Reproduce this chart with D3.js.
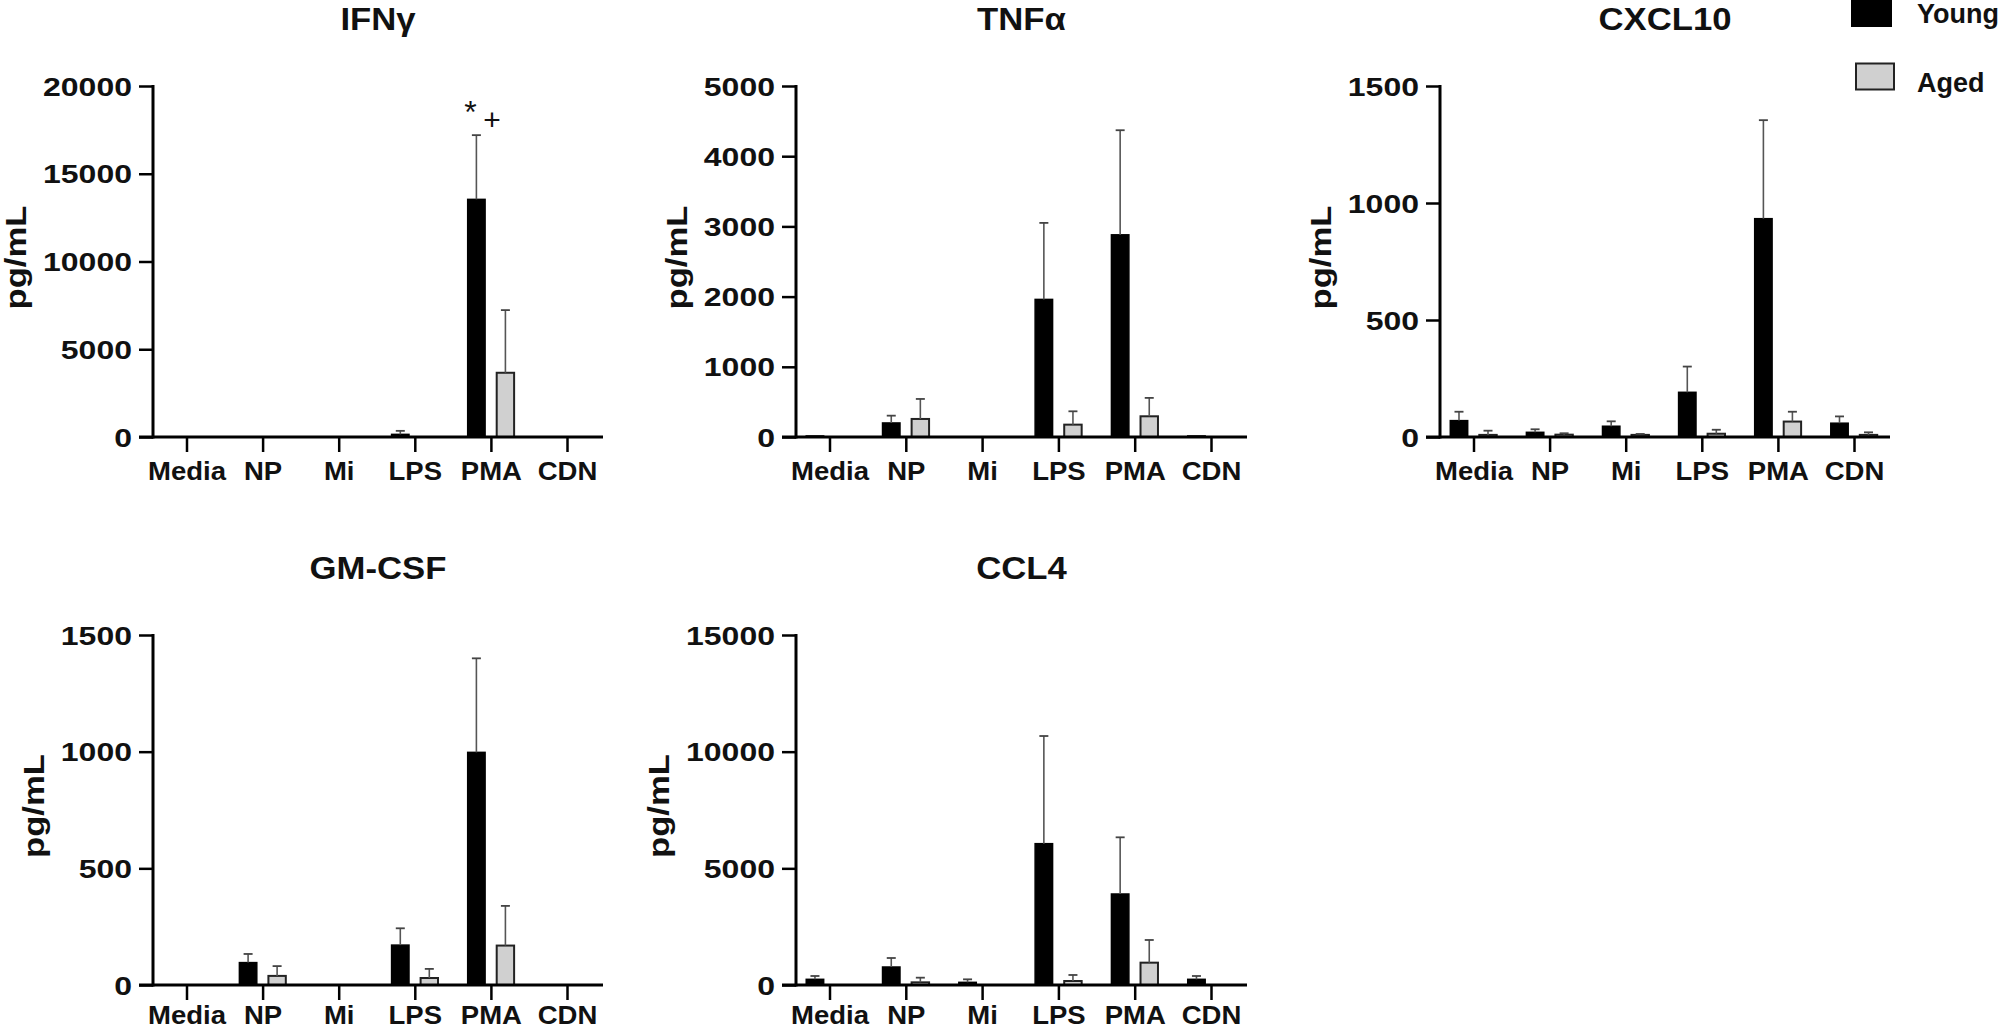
<!DOCTYPE html>
<html>
<head>
<meta charset="utf-8">
<script src="https://cdn.jsdelivr.net/npm/d3@7"></script>
<style>
  html, body { margin: 0; padding: 0; background: #fff; }
  svg { display: block; }
  text { font-family: "Liberation Sans", Arial, Helvetica, sans-serif; fill: #111; }
</style>
</head>
<body>
<svg id="chart" width="2008" height="1031"></svg>
<script>
// ---------------- DATA ----------------
const categories = ["Media", "NP", "Mi", "LPS", "PMA", "CDN"];
const seriesNames = ["Young", "Aged"];
const cytokines = ["IFNγ", "TNFα", "CXCL10", "GM-CSF", "CCL4"];
const yMaxes = [20000, 5000, 1500, 1500, 15000];
const yTickSteps = [5000, 1000, 500, 500, 5000];

// means and upper error (SD) per condition
const ifngYoung    = [0, 0, 0, 150, 13540, 0];
const ifngYoungErr = [0, 0, 0, 200, 3660, 0];
const ifngAged     = [0, 0, 0, 0, 3660, 0];
const ifngAgedErr  = [0, 0, 0, 0, 3570, 0];

const tnfYoung     = [15, 200, 0, 1960, 2880, 15];
const tnfYoungErr  = [0, 104, 0, 1090, 1490, 0];
const tnfAged      = [0, 257, 0, 176, 295, 0];
const tnfAgedErr   = [0, 285, 0, 190, 262, 0];

const cxclYoung    = [70, 20, 46, 191, 933, 59];
const cxclYoungErr = [38, 13, 21, 110, 421, 29];
const cxclAged     = [9, 10, 9, 14, 66, 9];
const cxclAgedErr  = [18, 6, 4, 17, 42, 11];

const gmcsfYoung    = [0, 96, 0, 171, 997, 0];
const gmcsfYoungErr = [0, 37, 0, 72, 403, 0];
const gmcsfAged     = [0, 39, 0, 30, 169, 0];
const gmcsfAgedErr  = [0, 42, 0, 39, 170, 0];

const ccl4Young    = [243, 771, 114, 6057, 3900, 243];
const ccl4YoungErr = [143, 386, 129, 4614, 2429, 143];
const ccl4Aged     = [0, 114, 0, 171, 957, 0];
const ccl4AgedErr  = [0, 200, 0, 258, 972, 0];

const annotationMarks = ["*", "+"]; // IFNγ, PMA group

// ---------------- BUILD ----------------
const panelData = [
  {young: ifngYoung, youngErr: ifngYoungErr, aged: ifngAged, agedErr: ifngAgedErr},
  {young: tnfYoung, youngErr: tnfYoungErr, aged: tnfAged, agedErr: tnfAgedErr},
  {young: cxclYoung, youngErr: cxclYoungErr, aged: cxclAged, agedErr: cxclAgedErr},
  {young: gmcsfYoung, youngErr: gmcsfYoungErr, aged: gmcsfAged, agedErr: gmcsfAgedErr},
  {young: ccl4Young, youngErr: ccl4YoungErr, aged: ccl4Aged, agedErr: ccl4AgedErr}
];

const layout = [
  {left: 153, right: 603, top: 86, bottom: 437},
  {left: 796, right: 1247, top: 86, bottom: 437},
  {left: 1440, right: 1890, top: 86, bottom: 437},
  {left: 153, right: 603, top: 635, bottom: 985},
  {left: 796, right: 1247, top: 635, bottom: 985}
];

const H = 1031;
const svg = d3.select("#chart");
svg.append("rect").attr("width", 2008).attr("height", H).attr("fill", "#fff");

const fills = {Young: "#000", Aged: "#d0d0d0"};
const strokes = {Young: "#000", Aged: "#222"};

function stretchedText(sel, x, y, sx, str) {
  return sel.append("text")
    .attr("transform", `translate(${x},${y}) scale(${sx},1)`)
    .text(str);
}

cytokines.forEach((name, i) => {
  const L = layout[i];
  const d = panelData[i];
  const g = svg.append("g");

  const x = d3.scalePoint().domain(categories).range([L.left + 33.5, L.right - 36]);
  const step = x.step();
  const xs = d3.scaleBand().domain(seriesNames)
    .range([-0.305 * step, 0.305 * step]).paddingInner(0.4);
  const y = d3.scaleLinear().domain([0, yMaxes[i]]).range([L.bottom, L.top]);
  const ticks = d3.range(0, yMaxes[i] + 1, yTickSteps[i]);

  // title
  stretchedText(g, (L.left + L.right) / 2, L.top - 56, 1.12, name)
    .attr("text-anchor", "middle")
    .attr("font-size", 31).attr("font-weight", "bold");

  // bars
  const rows = [];
  categories.forEach((c, k) => {
    rows.push({cat: c, s: "Young", v: d.young[k], e: d.youngErr[k]});
    rows.push({cat: c, s: "Aged", v: d.aged[k], e: d.agedErr[k]});
  });
  const bw = xs.bandwidth();
  const barRows = rows.filter(r => r.v > 0);
  g.selectAll("rect.bar").data(barRows).join("rect")
    .attr("class", "bar")
    .attr("x", r => x(r.cat) + xs(r.s))
    .attr("y", r => y(r.v))
    .attr("width", bw)
    .attr("height", r => L.bottom - y(r.v))
    .attr("fill", r => fills[r.s])
    .attr("stroke", r => strokes[r.s])
    .attr("stroke-width", r => r.s === "Aged" ? 2 : 1.5);

  // error bars
  const errRows = rows.filter(r => r.e > 0);
  const cx = r => x(r.cat) + xs(r.s) + bw / 2;
  g.selectAll("line.err").data(errRows).join("line")
    .attr("x1", cx).attr("x2", cx)
    .attr("y1", r => y(r.v)).attr("y2", r => y(r.v + r.e))
    .attr("stroke", "#555").attr("stroke-width", 1.6);
  g.selectAll("line.cap").data(errRows).join("line")
    .attr("x1", r => cx(r) - 4.5).attr("x2", r => cx(r) + 4.5)
    .attr("y1", r => y(r.v + r.e)).attr("y2", r => y(r.v + r.e))
    .attr("stroke", "#444").attr("stroke-width", 1.8);

  // y axis
  const yAxis = d3.axisLeft(y).tickValues(ticks).tickSize(14).tickPadding(0).tickFormat(d3.format("d"));
  const ya = g.append("g").attr("transform", `translate(${L.left},0)`).call(yAxis);
  ya.select(".domain").remove();
  ya.selectAll(".tick line").attr("stroke", "#000").attr("stroke-width", 2.5);
  ya.selectAll(".tick text")
    .attr("x", null).attr("dy", null)
    .attr("transform", "translate(-21,9) scale(1.28,1)")
    .attr("text-anchor", "end")
    .attr("font-size", 25).attr("font-weight", "bold")
    .attr("font-family", '"Liberation Sans", Arial, sans-serif')
    .attr("fill", "#111");
  g.append("line").attr("x1", L.left).attr("x2", L.left)
    .attr("y1", L.top - 1).attr("y2", L.bottom + 1.5)
    .attr("stroke", "#000").attr("stroke-width", 3);

  // x axis
  const labelY = Math.min(43, H - 7 - L.bottom);
  const xAxis = d3.axisBottom(x).tickSize(15).tickPadding(0);
  const xa = g.append("g").attr("transform", `translate(0,${L.bottom})`).call(xAxis);
  xa.select(".domain").remove();
  xa.selectAll(".tick line").attr("stroke", "#000").attr("stroke-width", 2.5);
  xa.selectAll(".tick text")
    .attr("y", null).attr("dy", null)
    .attr("transform", `translate(0,${labelY}) scale(1.1,1)`)
    .attr("text-anchor", "middle")
    .attr("font-size", 25).attr("font-weight", "bold")
    .attr("font-family", '"Liberation Sans", Arial, sans-serif')
    .attr("fill", "#111");
  g.append("line").attr("x1", L.left - 14).attr("x2", L.right)
    .attr("y1", L.bottom).attr("y2", L.bottom)
    .attr("stroke", "#000").attr("stroke-width", 3);

  // y axis title
  let minX = Infinity;
  ya.selectAll(".tick text").each(function () {
    const b = this.getBoundingClientRect();
    minX = Math.min(minX, b.left);
  });
  g.append("text")
    .attr("transform", `translate(${minX - 17},${(L.top + L.bottom) / 2 - 4}) rotate(-90)`)
    .attr("text-anchor", "middle")
    .attr("font-size", 30)
    .attr("font-weight", "bold")
    .attr("textLength", 104).attr("lengthAdjust", "spacingAndGlyphs")
    .text("pg/mL");

  // significance marks on IFNγ PMA
  if (i === 0) {
    const k = categories.indexOf("PMA");
    const topY = y(d.young[k] + d.youngErr[k]);
    const yc = x("PMA") + xs("Young") + bw / 2;
    g.append("text").attr("x", yc - 6).attr("y", topY - 12)
      .attr("text-anchor", "middle").attr("font-size", 32).text(annotationMarks[0]);
    g.append("text").attr("x", x("PMA") + 1).attr("y", topY - 5.5)
      .attr("text-anchor", "middle").attr("font-size", 30).text(annotationMarks[1]);
  }
});

// legend
const legend = svg.append("g");
const legendBoxes = [{x: 1852, y: 0, w: 39, h: 26}, {x: 1856, y: 63.5, w: 38, h: 26}];
seriesNames.forEach((s, k) => {
  const b = legendBoxes[k];
  legend.append("rect").attr("x", b.x).attr("y", b.y).attr("width", b.w).attr("height", b.h)
    .attr("fill", fills[s]).attr("stroke", strokes[s]).attr("stroke-width", 2);
  stretchedText(legend, 1917, b.y + 23 + (k === 0 ? 0 : 5), 1.0, s)
    .attr("font-size", 27).attr("font-weight", "bold");
});
</script>
</body>
</html>
